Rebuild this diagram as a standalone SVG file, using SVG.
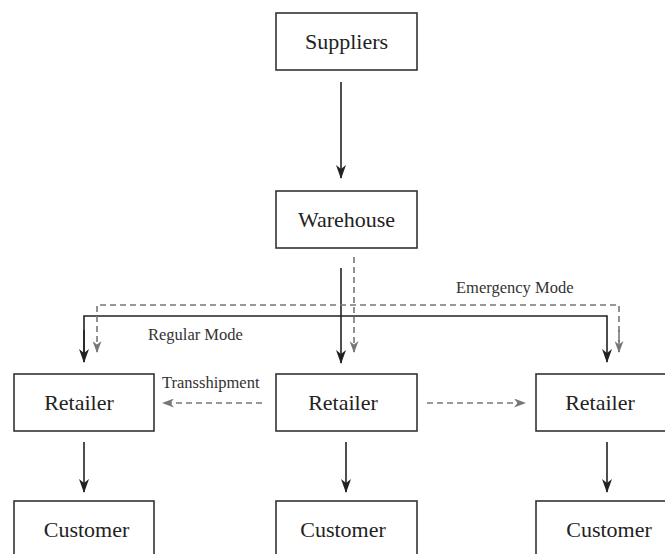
<svg xmlns="http://www.w3.org/2000/svg" width="665" height="554" viewBox="0 0 665 554">
<style>
.box{fill:#fff;stroke:#333;stroke-width:1.6}
.lbl{font-family:"Liberation Serif","Times New Roman",serif;font-size:22px;fill:#222;text-anchor:middle}
.sm{font-family:"Liberation Serif","Times New Roman",serif;font-size:16.5px;fill:#333}
.solid{fill:none;stroke:#222;stroke-width:1.6}
.dash{fill:none;stroke:#777;stroke-width:1.6;stroke-dasharray:6,4}
</style>
<defs>
<marker id="ah" viewBox="0 0 14 10" refX="13" refY="5" markerWidth="14" markerHeight="10" markerUnits="userSpaceOnUse" orient="auto">
<path d="M0,0 L14,5 L0,10 L4,5 z" fill="#222"/>
</marker>
<marker id="ahg" viewBox="0 0 12 9" refX="11" refY="4.5" markerWidth="12" markerHeight="9" markerUnits="userSpaceOnUse" orient="auto">
<path d="M0,0 L12,4.5 L0,9 L3.5,4.5 z" fill="#777"/>
</marker>
</defs>
<rect width="665" height="554" fill="#fff"/>
<g id="connectors">
<line class="solid" x1="341" y1="82" x2="341" y2="178" marker-end="url(#ah)"/>
<line class="solid" x1="341" y1="268" x2="341" y2="363" marker-end="url(#ah)"/>
<line class="dash" x1="354" y1="257" x2="354" y2="352" marker-end="url(#ahg)"/>
<path class="solid" d="M84,362 V316 H607 V362" marker-end="url(#ah)"/>
<line class="solid" x1="84" y1="330" x2="84" y2="362" marker-end="url(#ah)"/>
<path class="dash" d="M619,352 V305 H97 V352" marker-end="url(#ahg)"/>
<line class="dash" x1="619" y1="330" x2="619" y2="352" marker-end="url(#ahg)"/>
<line class="dash" x1="262" y1="403" x2="163" y2="403" marker-end="url(#ahg)"/>
<line class="dash" x1="427" y1="403" x2="525" y2="403" marker-end="url(#ahg)"/>
<line class="solid" x1="84" y1="442" x2="84" y2="492" marker-end="url(#ah)"/>
<line class="solid" x1="346" y1="442" x2="346" y2="492" marker-end="url(#ah)"/>
<line class="solid" x1="607" y1="442" x2="607" y2="492" marker-end="url(#ah)"/>
<text class="sm" x="148" y="340">Regular Mode</text>
<text class="sm" x="162" y="388">Transshipment</text>
<text class="sm" x="456" y="293">Emergency Mode</text>
</g>
<g id="suppliers"><rect class="box" x="276" y="13" width="141" height="57"/><text class="lbl" x="346.5" y="49">Suppliers</text></g>
<g id="warehouse"><rect class="box" x="276" y="191" width="141" height="57"/><text class="lbl" x="346.5" y="227">Warehouse</text></g>
<g id="retailer1"><rect class="box" x="14" y="374" width="140" height="57"/><text class="lbl" x="79" y="410">Retailer</text></g>
<g id="retailer2"><rect class="box" x="276" y="374" width="141" height="57"/><text class="lbl" x="343" y="410">Retailer</text></g>
<g id="retailer3"><rect class="box" x="536" y="374" width="140" height="57"/><text class="lbl" x="600" y="410">Retailer</text></g>
<g id="customer1"><rect class="box" x="14" y="501" width="140" height="70"/><text class="lbl" x="86.5" y="537">Customer</text></g>
<g id="customer2"><rect class="box" x="276" y="501" width="141" height="70"/><text class="lbl" x="343" y="537">Customer</text></g>
<g id="customer3"><rect class="box" x="536" y="501" width="140" height="70"/><text class="lbl" x="609" y="537">Customer</text></g>
</svg>
